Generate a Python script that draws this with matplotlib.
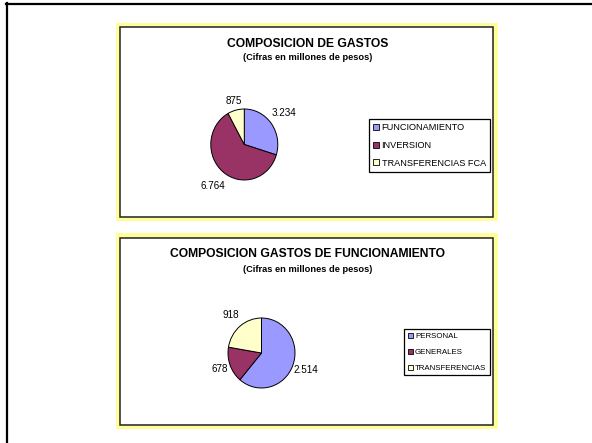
import matplotlib
matplotlib.use("Agg")
import matplotlib.pyplot as plt
from matplotlib.patches import Rectangle
from matplotlib.lines import Line2D
import numpy as np

plt.rcParams['font.family'] = ['Liberation Sans', 'DejaVu Sans']

# ---- data ----
titles1 = "COMPOSICION DE GASTOS"
titles2 = "COMPOSICION GASTOS DE FUNCIONAMIENTO"
subtitle = "(Cifras en millones de pesos)"

cats1 = ["FUNCIONAMIENTO", "INVERSION", "TRANSFERENCIAS FCA"]
vals1 = [3234, 6764, 875]
labels1 = ["3.234", "6.764", "875"]

cats2 = ["PERSONAL", "GENERALES", "TRANSFERENCIAS"]
vals2 = [2514, 678, 918]
labels2 = ["2.514", "678", "918"]

colors = ["#9999FF", "#993366", "#FFFFCC"]

W, H = 592, 443
fig = plt.figure(figsize=(W / 100, H / 100), dpi=100)
fig.patch.set_facecolor("white")


def fx(x):
    return x / W


def fy(y):
    return 1 - y / H


def rect(x0, y0, x1, y1, z, **kw):
    r = Rectangle((fx(x0), fy(y1)), fx(x1) - fx(x0), fy(y0) - fy(y1),
                  transform=fig.transFigure, zorder=z, **kw)
    fig.add_artist(r)


# outer page frame
fig.add_artist(Line2D([fx(6), fx(592)], [fy(4), fy(4)], transform=fig.transFigure,
                      color="black", lw=1.6, zorder=-10))
fig.add_artist(Line2D([fx(7), fx(7)], [fy(3), fy(443)], transform=fig.transFigure,
                      color="black", lw=1.6, zorder=-10))


def panel(y0, y1, by0, by1, title, tity, suby, cats, vals, labels, dists,
          center, rx, ry, leg_xy, leg_fs, leg_sp):
    rect(116, y0, 498, y1, -10, facecolor="#FFFF99", edgecolor="none")
    rect(119.5, by0, 493, by1, -9, facecolor="white", edgecolor="#222222", lw=1.1)
    fig.text(fx(307.5), fy(tity), title, ha="center", va="center",
             fontsize=8.7, fontweight="bold")
    fig.text(fx(307.5), fy(suby), subtitle, ha="center", va="center",
             fontsize=6.7, fontweight="bold")
    cx, cy = center
    ax = fig.add_axes([fx(cx - rx), fy(cy + ry), 2 * rx / W, 2 * ry / H])
    ax.patch.set_visible(False)
    wedges, _ = ax.pie(vals, colors=colors, startangle=90, counterclock=False,
                       radius=1, wedgeprops=dict(edgecolor="black", linewidth=0.7))
    ax.set_aspect("auto")
    ax.set_xlim(-1.0, 1.0)
    ax.set_ylim(-1.0, 1.0)
    ax.axis("off")
    for w, lab, d in zip(wedges, labels, dists):
        ang = np.deg2rad((w.theta1 + w.theta2) / 2)
        ax.text(d * np.cos(ang), d * np.sin(ang), lab, ha="center", va="center",
                fontsize=7.1, clip_on=False)
    lx, ly = leg_xy
    leg = ax.legend(wedges, cats, loc="upper right",
                    bbox_to_anchor=(fx(lx), fy(ly)), bbox_transform=fig.transFigure,
                    fontsize=leg_fs, frameon=True, fancybox=False, framealpha=1,
                    edgecolor="black", handlelength=0.6, handleheight=0.6,
                    handletextpad=0.3, labelspacing=leg_sp, borderpad=0.45,
                    borderaxespad=0)
    leg.get_frame().set_linewidth(0.9)
    for h in leg.legend_handles:
        h.set_linewidth(0.6)


panel(23, 221, 27, 217, titles1, 44, 57, cats1, vals1, labels1,
      [1.47, 1.5, 1.26], (244.3, 144.5), 33.5, 35.5, (490, 119), 6.6, 0.95)
panel(233, 429, 238, 425, titles2, 254, 269.5, cats2, vals2, labels2,
      [1.42, 1.34, 1.43], (261.5, 353), 33.5, 35.0, (490, 329), 5.7, 1.1)

fig.savefig("out.png", dpi=100, facecolor="white")
